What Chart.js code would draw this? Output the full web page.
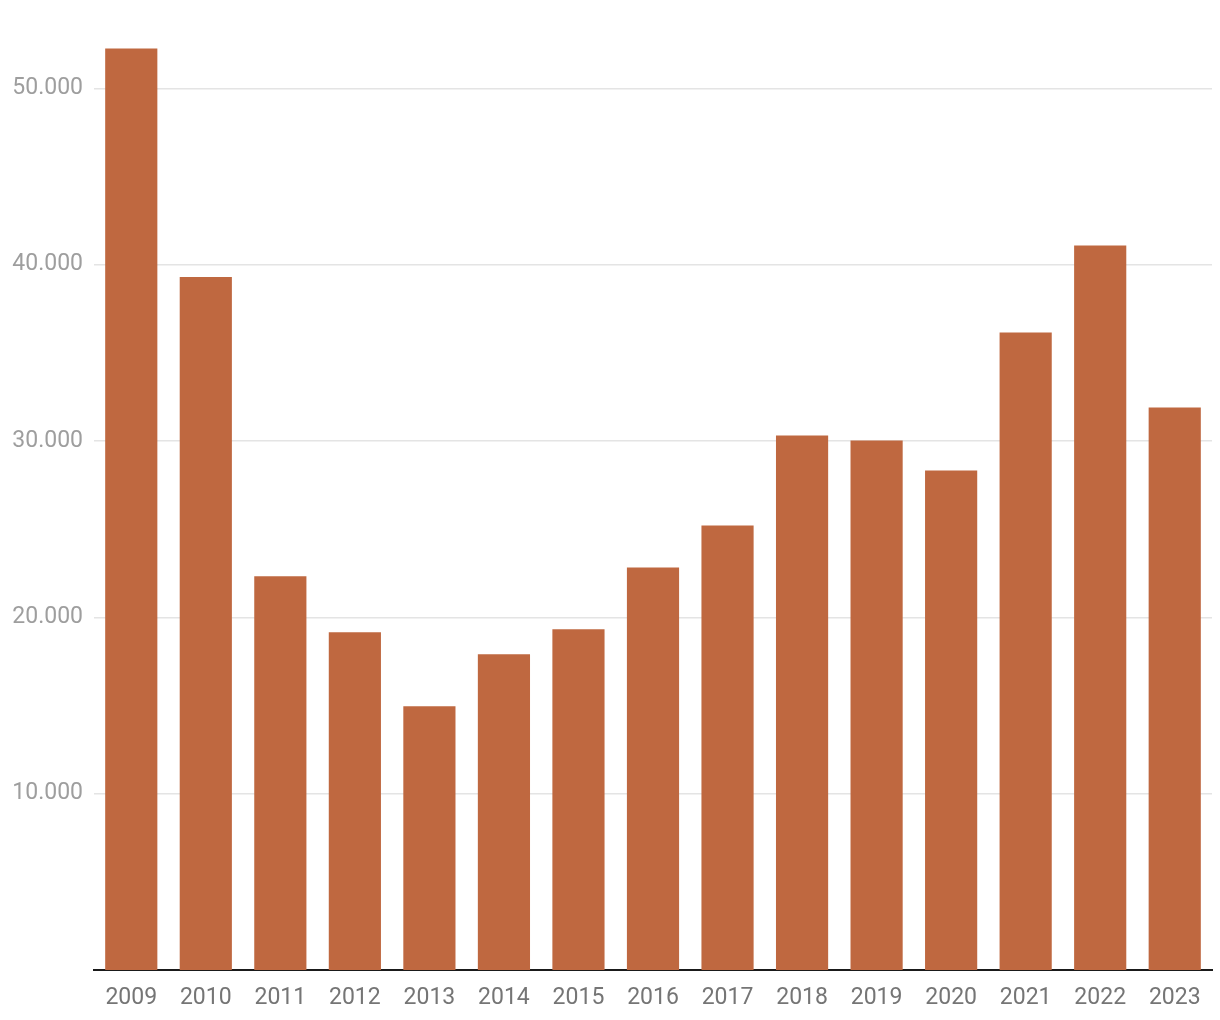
<!DOCTYPE html>
<html>
<head>
<meta charset="utf-8">
<script src="https://cdn.jsdelivr.net/npm/chart.js@4/dist/chart.umd.min.js"></script>
<style>
  html, body { margin: 0; padding: 0; background: #fff; }
  #wrap { width: 1220px; height: 1020px; }
</style>
</head>
<body>
<div id="wrap"><canvas id="chart" width="1220" height="1020"></canvas></div>
<script>
// Years on the x axis
const years = ['2009', '2010', '2011', '2012', '2013', '2014', '2015', '2016',
               '2017', '2018', '2019', '2020', '2021', '2022', '2023'];

// Values
const values = [52250, 39300, 22330, 19150, 14960, 17900, 19320, 22830,
                25200, 30310, 30030, 28330, 36150, 41080, 31900];

// Y ticks that carry a label and a gridline
const yTicks = [10000, 20000, 30000, 40000, 50000];

// German style thousands separator: 50000 -> 50.000
function formatThousands(v) {
    return String(v).replace(/\B(?=(\d{3})+(?!\d))/g, '.');
}

Chart.defaults.font.family = 'Roboto, "Noto Sans", sans-serif';

new Chart(document.getElementById('chart').getContext('2d'), {
    type: 'bar',
    data: {
        labels: years,
        datasets: [{
            data: values,
            backgroundColor: '#bf6840',
            borderWidth: 0,
            categoryPercentage: 0.7,
            barPercentage: 1
        }]
    },
    options: {
        responsive: false,
        animation: false,
        layout: { padding: { top: 0, right: 8, bottom: 0, left: 0 } },
        plugins: {
            legend: { display: false },
            tooltip: { enabled: false }
        },
        scales: {
            x: {
                grid: { display: false, drawTicks: false },
                border: { display: true, color: '#1a1a1a', width: 2 },
                ticks: {
                    color: '#757575',
                    font: { size: 23 },
                    padding: 14,
                    maxRotation: 0
                },
                afterFit: s => { s.height = 50; }
            },
            y: {
                min: 0,
                max: 53600,
                afterBuildTicks: s => { s.ticks = yTicks.map(v => ({ value: v })); },
                afterFit: s => { s.width = 94; },
                grid: { color: '#e4e4e4', lineWidth: 1.5, drawTicks: false },
                border: { display: false },
                ticks: {
                    color: '#9e9e9e',
                    font: { size: 23 },
                    padding: 11,
                    callback: v => formatThousands(v)
                }
            }
        }
    }
});
</script>
</body>
</html>
